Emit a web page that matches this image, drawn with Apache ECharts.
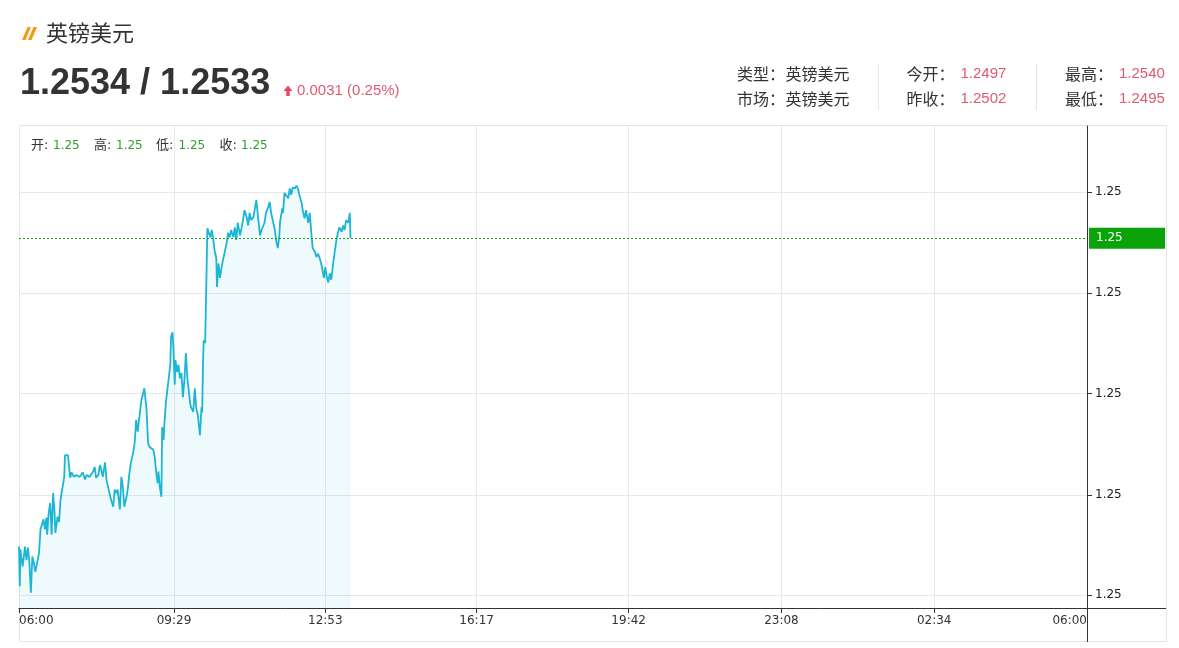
<!DOCTYPE html>
<html>
<head>
<meta charset="utf-8">
<script src="https://cdn.jsdelivr.net/npm/echarts@6/dist/echarts.min.js"></script>
<style>
html,body{margin:0;padding:0;background:#fff;}
#c{width:1179px;height:648px;}
</style>
</head>
<body>
<div id="c"></div>
<script>
// ---- data ----
const times = [
"06:00","06:01","06:02","06:03","06:05","06:08","06:10","06:12","06:14","06:16",
"06:18","06:20","06:22","06:24","06:27","06:29","06:31","06:33","06:35","06:37",
"06:38","06:40","06:42","06:44","06:46","06:48","06:49","06:52","06:54","06:56",
"06:58","07:01","07:02","07:06","07:08","07:09","07:11","07:14","07:17","07:22",
"07:26","07:29","07:31","07:35","07:40","07:42","07:44","07:47","07:49","07:51",
"07:53","07:56","07:58","08:00","08:02","08:04","08:07","08:09","08:11","08:13",
"08:16","08:18","08:20","08:22","08:25","08:27","08:29","08:31","08:34","08:36",
"08:38","08:40","08:43","08:45","08:47","08:49","08:52","08:54","08:56","08:58",
"09:01","09:03","09:05","09:07","09:08","09:10","09:12","09:13","09:15","09:16",
"09:18","09:20","09:22","09:24","09:25","09:27","09:28","09:30","09:31","09:33",
"09:35","09:37","09:39","09:41","09:43","09:45","09:47","09:49","09:51","09:52",
"09:55","09:57","09:59","10:01","10:04","10:06","10:07","10:08","10:09","10:11",
"10:14","10:16","10:18","10:20","10:22","10:24","10:26","10:27","10:29","10:31",
"10:33","10:35","10:37","10:40","10:42","10:44","10:46","10:49","10:51","10:53",
"10:55","10:58","11:00","11:02","11:04","11:07","11:09","11:11","11:13","11:16",
"11:18","11:20","11:21","11:23","11:25","11:27","11:29","11:31","11:33","11:36",
"11:38","11:40","11:42","11:45","11:47","11:49","11:51","11:52","11:55","11:56",
"11:58","12:00","12:03","12:05","12:07","12:09","12:12","12:14","12:16","12:18",
"12:21","12:23","12:25","12:27","12:30","12:32","12:34","12:36","12:39","12:41",
"12:43","12:45","12:48","12:50","12:51","12:53","12:55","12:57","12:59","13:01",
"13:03","13:06","13:08","13:10","13:12","13:15","13:17","13:19","13:21","13:24",
"13:26","13:27"
];
const prices = [
1.25001,1.24957,1.24998,1.24990,1.24979,1.25001,1.24986,1.25000,1.24983,1.24950,
1.24990,1.24983,1.24973,1.24973,1.24994,1.25020,1.25022,1.25031,1.25020,1.25033,
1.25014,1.25038,1.25049,1.25014,1.25060,1.25038,1.25016,1.25034,1.25028,1.25053,
1.25055,1.25078,1.25102,1.25102,1.25100,1.25077,1.25083,1.25078,1.25080,1.25078,
1.25083,1.25075,1.25080,1.25078,1.25084,1.25089,1.25077,1.25080,1.25091,1.25086,
1.25078,1.25094,1.25075,1.25067,1.25060,1.25053,1.25045,1.25064,1.25060,1.25064,
1.25042,1.25078,1.25067,1.25045,1.25056,1.25067,1.25083,1.25094,1.25105,1.25116,
1.25141,1.25128,1.25149,1.25163,1.25169,1.25176,1.25152,1.25116,1.25111,1.25113,
1.25108,1.25100,1.25083,1.25071,1.25084,1.25066,1.25056,1.25133,1.25119,1.25136,
1.25160,1.25174,1.25176,1.25202,1.25233,1.25238,1.25224,1.25180,1.25207,1.25194,
1.25202,1.25187,1.25193,1.25166,1.25185,1.25215,1.25187,1.25185,1.25158,1.25155,
1.25150,1.25176,1.25154,1.25147,1.25124,1.25155,1.25149,1.25200,1.25229,1.25226,
1.25353,1.25351,1.25343,1.25351,1.25340,1.25327,1.25320,1.25288,1.25314,1.25298,
1.25309,1.25318,1.25325,1.25337,1.25348,1.25343,1.25351,1.25343,1.25354,1.25340,
1.25359,1.25345,1.25353,1.25362,1.25373,1.25365,1.25356,1.25370,1.25362,1.25365,
1.25367,1.25384,1.25376,1.25360,1.25345,1.25351,1.25349,1.25359,1.25370,1.25376,
1.25382,1.25370,1.25362,1.25351,1.25338,1.25331,1.25345,1.25360,1.25375,1.25370,
1.25392,1.25393,1.25386,1.25397,1.25390,1.25398,1.25397,1.25400,1.25397,1.25390,
1.25381,1.25371,1.25364,1.25373,1.25359,1.25370,1.25349,1.25331,1.25327,1.25321,
1.25325,1.25321,1.25312,1.25303,1.25298,1.25310,1.25299,1.25293,1.25303,1.25296,
1.25310,1.25329,1.25340,1.25348,1.25354,1.25349,1.25356,1.25351,1.25362,1.25359,
1.25370,1.25342
];
const xTickLabels = ["06:00","09:29","12:53","16:17","19:42","23:08","02:34","06:00"];
const yTickValues = [1.24947, 1.25058, 1.25170, 1.25281, 1.25393];
const yRange = [1.24933, 1.25466];

const pairName = "英镑美元";
const bidAsk = ["1.2534", "1.2533"];
const change = "0.0031";
const changePct = "0.25%";
const infoLabels = [["类型：", "市场："], ["今开：", "昨收："], ["最高：", "最低："]];
const infoType = ["英镑美元", "英镑美元"];
const infoOpenClose = ["1.2497", "1.2502"];
const infoHighLow = ["1.2540", "1.2495"];
const ohlcLabels = ["开:", "高:", "低:", "收:"];

// ---- helpers ----
const START = 6 * 60;
function toMin(t, isLast) {
  const p = t.split(":");
  let m = (parseInt(p[0], 10) * 60 + parseInt(p[1], 10) - START + 1440) % 1440;
  if (isLast && m === 0) m = 1440;
  return m;
}
const xTickValues = xTickLabels.map((t, i) => toMin(t, i === xTickLabels.length - 1));
const seriesData = times.map((t, i) => [toMin(t, false), prices[i]]);
const lastPrice = prices[prices.length - 1];
const ohlcValues = [prices[0], Math.max.apply(null, prices), Math.min.apply(null, prices), lastPrice];
const xMin = xTickValues[0], xMax = xTickValues[xTickValues.length - 1];

const chart = echarts.init(document.getElementById('c'), null, {renderer: 'canvas'});

const CJK = '"Noto Sans CJK SC", sans-serif';
const ARIAL = '"Liberation Sans", Arial, sans-serif';
const DV = '"DejaVu Sans", "Noto Sans CJK SC", sans-serif';
const RED = '#e05a6e';
const GREEN_TXT = '#2f9e2f';

const graphics = [];
// frame
graphics.push({type:'rect', z:-10, silent:true, shape:{x:19.5, y:125.5, width:1147, height:516}, style:{fill:null, stroke:'#e4e4e4', lineWidth:1}});
// axis extensions
graphics.push({type:'line', z:50, silent:true, shape:{x1:1087.5, y1:608, x2:1087.5, y2:642}, style:{stroke:'#333', lineWidth:1}});
graphics.push({type:'line', z:50, silent:true, shape:{x1:1087, y1:608.5, x2:1166, y2:608.5}, style:{stroke:'#333', lineWidth:1}});
// icon
graphics.push({type:'polygon', silent:true, shape:{points:[[27.5,27],[31,27],[25.5,40],[22,40]]}, style:{fill:'#f39a12'}});
graphics.push({type:'polygon', silent:true, shape:{points:[[33.5,27],[37,27],[31.5,40],[28,40]]}, style:{fill:'#f39a12'}});
// title
graphics.push({type:'text', silent:true, x:46, y:33, style:{text:pairName, font:'22px ' + CJK, fill:'#333', textAlign:'left', textVerticalAlign:'middle'}});
// big quote
graphics.push({type:'text', silent:true, x:20, y:84, style:{text:bidAsk[0] + ' / ' + bidAsk[1], font:'bold 36px ' + ARIAL, fill:'#333', textAlign:'left', textVerticalAlign:'middle'}});
// arrow
graphics.push({type:'polygon', silent:true, shape:{points:[[283.5,91],[288,85.5],[292.5,91],[289.7,91],[289.7,96],[286.3,96],[286.3,91]]}, style:{fill:'#e8475f'}});
graphics.push({type:'text', silent:true, x:297, y:90.5, style:{text:change + ' (' + changePct + ')', font:'15px ' + ARIAL, fill:RED, textAlign:'left', textVerticalAlign:'middle'}});
// info panel
const rowsY = [74, 98.5];
const labelX = [737, 906.5, 1065];
const valueX = [785.5, 960.5, 1119];
for (let r = 0; r < 2; r++) {
  for (let c = 0; c < 3; c++) {
    graphics.push({type:'text', silent:true, x:labelX[c], y:rowsY[r], style:{text:infoLabels[c][r], font:'16px ' + CJK, fill:'#333', textAlign:'left', textVerticalAlign:'middle'}});
  }
  graphics.push({type:'text', silent:true, x:valueX[0], y:rowsY[r], style:{text:infoType[r], font:'16px ' + CJK, fill:'#333', textAlign:'left', textVerticalAlign:'middle'}});
  graphics.push({type:'text', silent:true, x:valueX[1], y:rowsY[r], style:{text:infoOpenClose[r], font:'15px ' + ARIAL, fill:RED, textAlign:'left', textVerticalAlign:'middle'}});
  graphics.push({type:'text', silent:true, x:valueX[2], y:rowsY[r], style:{text:infoHighLow[r], font:'15px ' + ARIAL, fill:RED, textAlign:'left', textVerticalAlign:'middle'}});
}
graphics.push({type:'line', silent:true, shape:{x1:878.5, y1:64, x2:878.5, y2:110}, style:{stroke:'#e6e6e6', lineWidth:1}});
graphics.push({type:'line', silent:true, shape:{x1:1036.5, y1:64, x2:1036.5, y2:110}, style:{stroke:'#e6e6e6', lineWidth:1}});
// OHLC legend
const ohlcLX = [31, 94, 156, 219.5];
const ohlcVX = [53, 116, 178.5, 241];
for (let i = 0; i < 4; i++) {
  graphics.push({type:'text', silent:true, z:60, x:ohlcLX[i], y:146, style:{text:ohlcLabels[i], font:'13px ' + DV, fill:'#333', textAlign:'left', textVerticalAlign:'middle'}});
  graphics.push({type:'text', silent:true, z:60, x:ohlcVX[i], y:146, style:{text:ohlcValues[i].toFixed(2), font:'12px ' + DV, fill:GREEN_TXT, textAlign:'left', textVerticalAlign:'middle'}});
}

const option = {
  animation: false,
  backgroundColor: '#fff',
  grid: {left: 19, right: 92, top: 126, bottom: 40, containLabel: false, outerBoundsMode: 'none'},
  xAxis: {
    type: 'value', min: xMin, max: xMax,
    axisLine: {show: true, onZero: false, lineStyle: {color: '#333', width: 1}},
    axisTick: {show: true, length: 5, inside: false, lineStyle: {color: '#333'}, customValues: xTickValues},
    axisLabel: {
      customValues: xTickValues, margin: 7, color: '#333', fontFamily: 'DejaVu Sans', fontSize: 12,
      alignMinLabel: 'left', alignMaxLabel: 'right',
      formatter: function (v) { const i = xTickValues.indexOf(Math.round(v)); return i >= 0 ? xTickLabels[i] : ''; }
    },
    splitLine: {show: true, lineStyle: {color: '#e8e8e8', width: 1}}
  },
  yAxis: {
    type: 'value', position: 'right', min: yRange[0], max: yRange[1], scale: true,
    axisLine: {show: true, onZero: false, lineStyle: {color: '#333', width: 1}},
    axisTick: {show: true, length: 5, inside: false, lineStyle: {color: '#333'}, customValues: yTickValues},
    axisLabel: {customValues: yTickValues, margin: 8, color: '#222', fontFamily: 'DejaVu Sans', fontSize: 12,
      formatter: function (v) { return Number(v).toFixed(2); }},
    splitLine: {show: true, lineStyle: {color: '#e8e8e8', width: 1}}
  },
  series: [{
    type: 'line',
    data: seriesData,
    showSymbol: false,
    symbol: 'none',
    smooth: false,
    lineStyle: {color: '#1cb5d4', width: 1.8},
    areaStyle: {color: 'rgba(28,181,212,0.1)', origin: 'start'},
    markLine: {
      silent: true,
      symbol: 'none',
      animation: false,
      data: [[{coord: [xMin, lastPrice]}, {coord: [xMax, lastPrice]}]],
      lineStyle: {color: '#1e9e1e', type: [2, 2], width: 1},
      label: {
        show: true, position: 'end', distance: 2,
        formatter: function () { return lastPrice.toFixed(2); },
        backgroundColor: '#0aa30a', color: '#fff', fontFamily: 'DejaVu Sans', fontSize: 12,
        padding: [4, 0, 3, 7], width: 69, lineHeight: 14
      },
      emphasis: {disabled: true}
    }
  }],
  graphic: graphics
};
chart.setOption(option);
</script>
</body>
</html>
